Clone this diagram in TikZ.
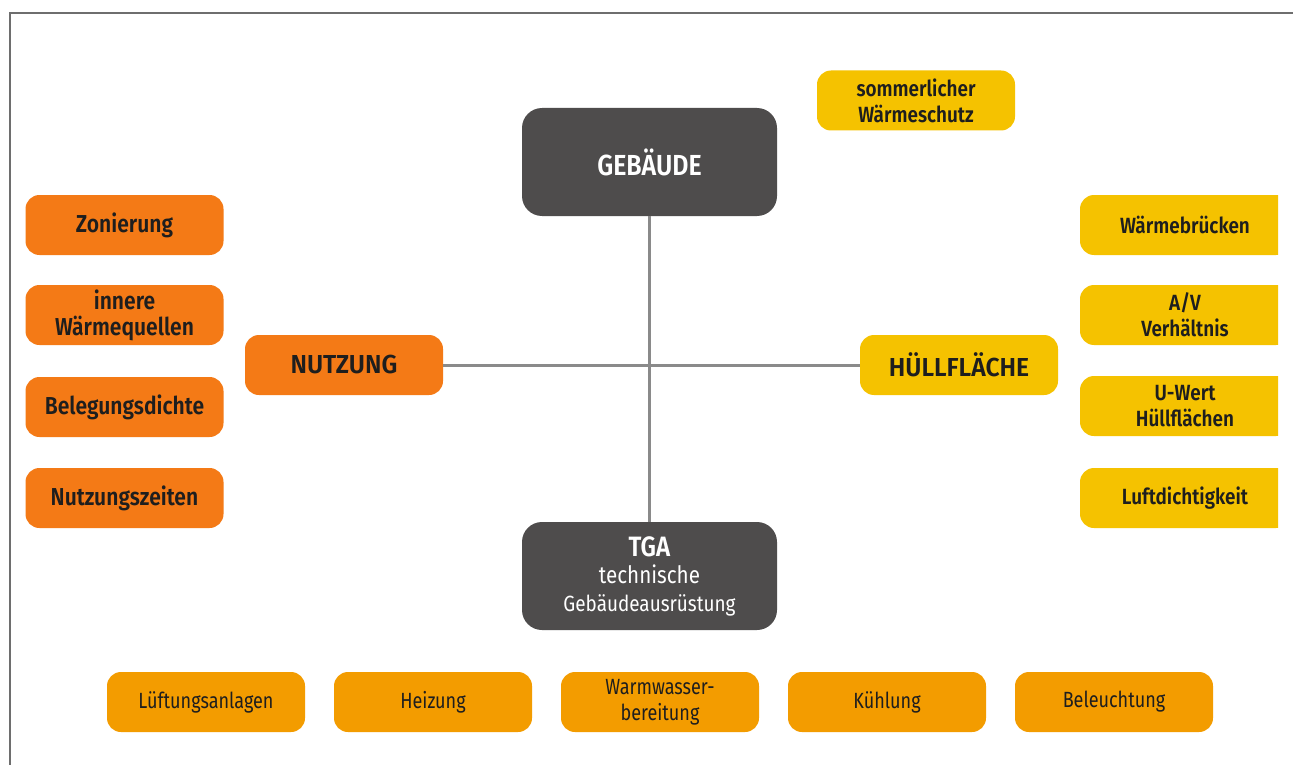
\documentclass[tikz,border=0pt]{standalone}
\usepackage{fontspec}
\setmainfont{Fira Sans}[FakeStretch=0.86, BoldFont={Fira Sans SemiBold}]
\newfontfamily\lightfont{Fira Sans}[FakeStretch=0.82]
\definecolor{darkbox}{HTML}{4E4C4C}
\definecolor{orangebox}{HTML}{F47A16}
\definecolor{yellowbox}{HTML}{F5C200}
\definecolor{ambox}{HTML}{F39C00}
\definecolor{conncol}{HTML}{8A8A8A}
\definecolor{framecol}{HTML}{6E6E6E}
\definecolor{txt}{HTML}{1E1E1E}
\begin{document}
\begin{tikzpicture}[x=1pt,y=-1pt,
  box/.style={rounded corners=14pt, minimum width=198pt, minimum height=60pt, align=center, inner sep=0pt, text=txt, font=\bfseries\fontsize{24.5}{26}\selectfont},
  mainbox/.style={rounded corners=20pt, minimum width=255pt, minimum height=108pt, align=center, inner sep=0pt, fill=darkbox, text=white},
  obox/.style={box, fill=orangebox},
  ybox/.style={box, fill=yellowbox},
  catbox/.style={font=\bfseries\fontsize{26}{30}\selectfont\addfontfeatures{FakeStretch=0.95}},
  rbox/.style={ybox, minimum width=210pt, font=\bfseries\fontsize{22}{26}\selectfont},
  bbox/.style={box, fill=ambox, font=\lightfont\fontsize{22}{26}\selectfont},
  conn/.style={draw=conncol, line width=3pt},
  framestyle/.style={draw=framecol, line width=2pt}
]
\useasboundingbox (0,0) rectangle (1293,765);
\fill[white] (0,0) rectangle (1293,765);
\draw[framestyle] (1293,13) -- (10,13) -- (10,765);

\node[mainbox, font=\bfseries\fontsize{29}{30}\selectfont] (geb) at (649.5,162) {GEBÄUDE};
\node[mainbox, font=\fontsize{24}{27.5}\selectfont] (tga) at (649.5,576) {{\bfseries\fontsize{28}{30}\selectfont TGA}\\
  {\fontsize{24}{27}\selectfont technische}\\
  {\fontsize{22}{26}\selectfont Gebäudeausrüstung}};

\node[obox, catbox] (nutz) at (344,365) {NUTZUNG};
\node[ybox, catbox] (hull) at (959,365) {HÜLLFLÄCHE};

\node[obox] (zon) at (124.5,225) {Zonierung};
\node[obox] (inn) at (124.5,315) {innere\\Wärmequellen};
\node[obox] (bel) at (124.5,407) {Belegungsdichte};
\node[obox] (nzz) at (124.5,498) {Nutzungszeiten};

\begin{scope}
\clip (0,0) rectangle (1278,765);
\node[rbox] (wbr) at (1185,225) {Wärmebrücken};
\node[rbox] (av) at (1185,315) {A/V\\Verhältnis};
\node[rbox] (uw) at (1185,406) {U-Wert\\Hüllflächen};
\node[rbox] (luft) at (1185,498) {Luftdichtigkeit};
\end{scope}

\node[ybox, font=\bfseries\fontsize{22}{26}\selectfont] (som) at (916,100.5) {sommerlicher\\Wärmeschutz};

\node[bbox] (lue) at (206,702) {Lüftungsanlagen};
\node[bbox] (hei) at (433,702) {Heizung};
\node[bbox] (ww) at (660,702) {Warmwasser-\\bereitung};
\node[bbox] (kue) at (887,702) {Kühlung};
\node[bbox] (bel2) at (1114,702) {Beleuchtung};

\draw[conn] (geb.south) -- (tga.north);
\draw[conn] (nutz.east) -- (hull.west);
\end{tikzpicture}
\end{document}
